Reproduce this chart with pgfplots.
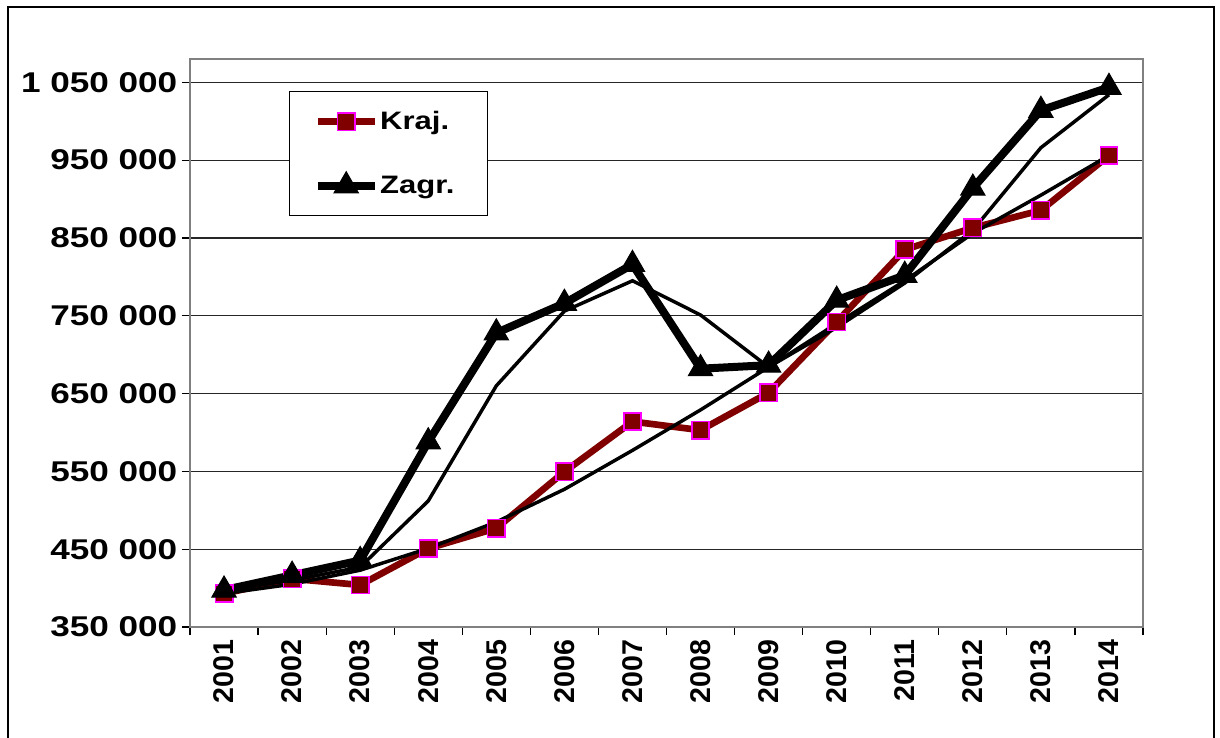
\documentclass[border=0pt]{standalone}
\usepackage{fontspec}
\setmainfont{Liberation Sans}
\newfontfamily\wfont[FakeStretch=1.23]{Liberation Sans}
\usepackage{pgfplots}
\usepackage{pgfplotstable}
\pgfplotsset{compat=1.18}
\definecolor{kraj}{RGB}{128,0,0}
\definecolor{mag}{RGB}{255,0,255}
\pgfplotstableread{
x kraj zagr ktrend zthin
0 393000 397500 393000 397000
1 412000 416500 405000 410000
2 404000 435500 423000 427000
3 451000 588000 451000 512000
4 477000 728000 485000 660000
5 549500 766000 527000 756000
6 614000 816000 577000 795000
7 603000 682000 629000 751000
8 651000 686500 684000 684000
9 742000 770000 740000 735000
10 835000 802000 795000 792000
11 863000 914000 856000 860000
12 885500 1014000 905000 966000
13 956000 1043500 956000 1034000
}\data
\begin{document}
\begin{tikzpicture}
\useasboundingbox (0,0) rectangle (915bp,553.5bp);
\draw[line width=1.5bp] (6bp,-20bp) rectangle (910.5bp,548.25bp);
\begin{axis}[
  at={(142.5bp,83.25bp)}, anchor=south west,
  scale only axis, width=714.75bp, height=426bp,
  xmin=-0.5, xmax=13.5, ymin=350000, ymax=1080000,
  xtick={-0.5,0.5,...,13.5},
  x tick label as interval,
  xticklabels={2001,2002,2003,2004,2005,2006,2007,2008,2009,2010,2011,2012,2013,2014},
  ytick={350000,450000,...,1050000},
  scaled y ticks=false,
  ymajorgrids,
  grid style={black!85, line width=0.9bp},
  axis line style={gray, line width=1.1bp},
  tick style={black, line width=0.9bp},
  tick align=outside, major tick length=6bp, tick pos=left,
  yticklabel style={font=\wfont\bfseries\fontsize{21.5}{26}\selectfont},
  xticklabel style={rotate=90, anchor=east, font=\bfseries\fontsize{21.5}{25}\selectfont},
  /pgf/number format/fixed,
  /pgf/number format/precision=0,
  /pgf/number format/1000 sep={\ },
  /pgf/number format/assume math mode=true,
  legend style={at={(0.1039,0.9437)}, anchor=north west, draw=black, line width=0.8bp,
    fill=white, font=\wfont\bfseries\fontsize{19}{22}\selectfont,
    inner xsep=18bp, inner ysep=15bp, row sep=30bp,
    nodes={inner xsep=1bp, inner ysep=0bp}},
  legend cell align=left,
  legend image code/.code={\draw[mark repeat=2, mark phase=2, #1] plot coordinates {(0bp,0bp)(21.5bp,0bp)(43bp,0bp)};},
]
\addplot[kraj, line width=5bp, mark=square*, mark size=6.5bp,
  mark options={fill=kraj, draw=mag, line width=1.2bp}] table[x=x, y=kraj] {\data};
\addlegendentry{Kraj.}
\addplot[black, line width=6bp, mark=triangle*, mark size=10.5bp,
  mark options={fill=black, line width=0.8bp}] table[x=x, y=zagr] {\data};
\addlegendentry{Zagr.\hspace*{6bp}}
\addplot[black, line width=2.6bp, forget plot] table[x=x, y=ktrend] {\data};
\addplot[black, line width=2.6bp, forget plot] table[x=x, y=zthin] {\data};
\end{axis}
\end{tikzpicture}
\end{document}
